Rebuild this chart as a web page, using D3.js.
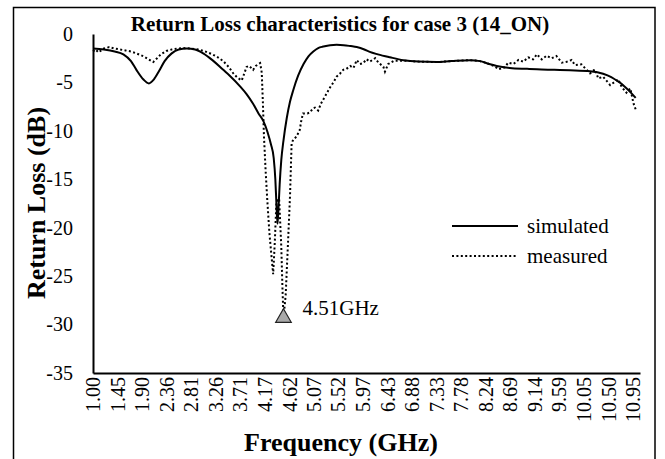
<!DOCTYPE html>
<html>
<head>
<meta charset="utf-8">
<script src="https://cdn.jsdelivr.net/npm/d3@7"></script>
<style>
  html, body { margin: 0; padding: 0; background: #fff; }
  svg text { font-family: "Liberation Serif", "Times New Roman", serif; fill: #000; }
</style>
</head>
<body>
<div id="chart"></div>
<script>
// --- Data ---

const titleText = 'Return Loss characteristics for case 3 (14_ON)';

const xTickLabels = ['1.00', '1.45', '1.90', '2.36', '2.81', '3.26', '3.71', '4.17', '4.62', '5.07',
  '5.52', '5.97', '6.43', '6.88', '7.33', '7.78', '8.24', '8.69', '9.14', '9.59', '10.05', '10.50', '10.95'];
const yTicks = [0, -5, -10, -15, -20, -25, -30, -35];

// simulated (solid)
const simFreq = [1.00, 1.20, 1.40, 1.56, 1.70, 1.80, 1.93, 2.03, 2.12, 2.22, 2.32, 2.45, 2.58, 2.73, 2.88,
  3.03, 3.20, 3.40, 3.52, 3.71, 3.83, 3.95, 4.05, 4.14, 4.22, 4.28, 4.33, 4.36, 4.38, 4.40, 4.42, 4.44,
  4.47, 4.51, 4.57, 4.63, 4.69, 4.78, 4.88, 4.97, 5.06, 5.15, 5.24, 5.37, 5.49, 5.62, 5.75, 5.86, 6.00,
  6.10, 6.25, 6.47, 6.72, 7.00, 7.33, 7.60, 7.95, 8.13, 8.30, 8.44, 8.68, 9.00, 9.18, 9.50, 9.79, 10.16,
  10.40, 10.55, 10.65, 10.75, 10.83, 10.92, 11.00];
const simLoss = [-1.5, -1.6, -1.8, -2.1, -2.8, -3.7, -4.7, -5.1, -4.7, -3.8, -2.8, -2.0, -1.6, -1.5, -1.6,
  -2.0, -2.7, -3.7, -4.3, -5.4, -6.2, -7.2, -8.2, -9.0, -10.2, -11.4, -12.8, -15.0, -17.5, -19.6, -17.8, -15.5,
  -13.0, -11.0, -8.7, -7.0, -5.8, -4.3, -3.1, -2.3, -1.8, -1.45, -1.3, -1.15, -1.12, -1.15, -1.25, -1.35, -1.6,
  -1.85, -2.1, -2.4, -2.7, -2.85, -2.9, -2.8, -2.7, -2.8, -3.1, -3.3, -3.5, -3.6, -3.65, -3.7, -3.75, -3.85,
  -4.1, -4.45, -4.8, -5.2, -5.6, -6.1, -6.6];

// measured (dotted)
const measFreq = [1.00, 1.05, 1.10, 1.20, 1.30, 1.40, 1.50, 1.60, 1.70, 1.80, 1.93, 2.02, 2.11, 2.18, 2.25,
  2.35, 2.45, 2.55, 2.66, 2.80, 2.95, 3.09, 3.20, 3.30, 3.40, 3.50, 3.59, 3.66, 3.74, 3.78, 3.83, 3.88, 3.95,
  4.00, 4.05, 4.08, 4.11, 4.13, 4.15, 4.18, 4.21, 4.25, 4.29, 4.32, 4.35, 4.38, 4.43, 4.47, 4.49, 4.51, 4.55,
  4.59, 4.63, 4.66, 4.69, 4.75, 4.81, 4.84, 4.87, 4.95, 5.00, 5.05, 5.09, 5.15, 5.20, 5.24, 5.30, 5.37, 5.43,
  5.49, 5.55, 5.61, 5.67, 5.74, 5.80, 5.86, 5.92, 5.98, 6.04, 6.10, 6.20, 6.26, 6.35, 6.38, 6.44, 6.55, 6.72,
  7.00, 7.33, 7.60, 7.95, 8.13, 8.20, 8.30, 8.41, 8.47, 8.59, 8.65, 8.75, 8.84, 8.93, 9.02, 9.11, 9.18, 9.27,
  9.36, 9.45, 9.54, 9.64, 9.73, 9.82, 9.88, 10.00, 10.10, 10.16, 10.25, 10.31, 10.40, 10.53, 10.62, 10.68,
  10.74, 10.83, 10.90, 10.96, 11.00];
const measLoss = [-1.8, -1.6, -1.9, -1.5, -1.35, -1.5, -1.6, -1.7, -1.8, -2.0, -2.3, -2.6, -2.9, -2.5, -2.1,
  -1.75, -1.6, -1.5, -1.45, -1.5, -1.6, -1.85, -2.1, -2.4, -2.8, -3.4, -4.1, -4.5, -4.8, -4.2, -3.4, -3.3, -3.7,
  -3.3, -3.1, -3.0, -4.0, -7.0, -10.5, -14.0, -17.0, -20.5, -23.0, -24.8, -21.5, -17.3, -17.0, -22.0, -26.0, -29.3, -27.0,
  -22.0, -16.8, -11.3, -10.9, -10.6, -9.9, -8.9, -8.2, -8.2, -8.1, -7.7, -7.6, -7.9, -7.2, -6.8, -6.2, -5.5, -5.0,
  -4.4, -4.1, -3.7, -3.6, -3.3, -3.5, -2.7, -3.1, -3.0, -2.6, -2.86, -2.5, -2.96, -3.37, -3.89, -3.1, -2.75, -2.75,
  -2.85, -2.9, -2.8, -2.7, -2.8, -2.9, -3.1, -3.37, -3.65, -3.44, -2.96, -3.10, -2.68, -2.86, -2.41, -2.62, -2.10, -2.62,
  -2.24, -2.51, -2.27, -2.96, -2.86, -2.68, -3.20, -3.13, -3.72, -4.06, -3.65, -4.58, -4.41, -5.27, -4.92, -4.68,
  -5.44, -6.06, -5.61, -7.16, -7.78];

const seriesNames = ['simulated', 'measured'];
const markerFreq = 4.51;
const markerLoss = -29.3;
const markerLabel = '4.51GHz';

// --- Layout ---

const W = 665, H = 459;
const svg = d3.select('#chart').append('svg')
  .attr('width', W)
  .attr('height', H)
  .attr('viewBox', `0 0 ${W} ${H}`);

svg.append('rect').attr('width', W).attr('height', H).attr('fill', '#fff');

// chart frame
svg.append('rect')
  .attr('x', 13.5).attr('y', 7.5)
  .attr('width', 641.5).attr('height', 480)
  .attr('fill', 'none')
  .attr('stroke', '#000')
  .attr('stroke-width', 1.5);

const x = d3.scaleLinear().domain([1, 11.08]).range([93, 640]);
const y = d3.scaleLinear().domain([-35, 0]).range([373, 34]);

// axes
const xAxis = d3.axisBottom(x)
  .tickValues(xTickLabels.map(Number))
  .tickFormat((d, i) => xTickLabels[i])
  .tickSize(0)
  .tickSizeOuter(0);

const gx = svg.append('g')
  .attr('transform', `translate(0,${y(-35)})`)
  .call(xAxis);
gx.select('.domain').attr('stroke', '#000').attr('stroke-width', 2);
gx.selectAll('text')
  .attr('transform', 'rotate(-90)')
  .attr('x', -4)
  .attr('y', 0)
  .attr('dy', '0.33em')
  .style('text-anchor', 'end')
  .style('font-size', '20px')
  .style('font-family', '"Liberation Serif", "Times New Roman", serif');

// plain hyphen for negatives, like the original
const yAxis = d3.axisLeft(y)
  .tickValues(yTicks)
  .tickFormat(d => String(d))
  .tickSize(0)
  .tickSizeOuter(0)
  .tickPadding(20);

const gy = svg.append('g')
  .attr('transform', `translate(${x(1)},0)`)
  .call(yAxis);
gy.select('.domain').attr('stroke', '#000').attr('stroke-width', 2);
gy.selectAll('text')
  .style('font-size', '20px')
  .style('font-family', '"Liberation Serif", "Times New Roman", serif');

// series
const toPoints = (fs, ls) => fs.map((f, i) => [f, ls[i]]);
const simLine = d3.line().x(d => x(d[0])).y(d => y(d[1])).curve(d3.curveMonotoneX);
const measLine = d3.line().x(d => x(d[0])).y(d => y(d[1]));

svg.append('path')
  .datum(toPoints(measFreq, measLoss))
  .attr('d', measLine)
  .attr('fill', 'none')
  .attr('stroke', '#000')
  .attr('stroke-width', 2)
  .attr('stroke-dasharray', '2,2.4');

svg.append('path')
  .datum(toPoints(simFreq, simLoss))
  .attr('d', simLine)
  .attr('fill', 'none')
  .attr('stroke', '#000')
  .attr('stroke-width', 2)
  .attr('stroke-linejoin', 'round');

// minimum marker
svg.append('path')
  .attr('d', d3.symbol(d3.symbolTriangle, 105)())
  .attr('transform', `translate(${x(markerFreq)},${y(markerLoss)})`)
  .attr('fill', '#a9a9a9')
  .attr('stroke', '#222')
  .attr('stroke-width', 1.2);

svg.append('text')
  .attr('x', x(markerFreq) + 19)
  .attr('y', y(markerLoss) - 3)
  .style('font-size', '21px')
  .text(markerLabel);

// legend
const legend = svg.append('g');
const legendRows = legend.selectAll('g')
  .data(seriesNames)
  .enter().append('g')
  .attr('transform', (d, i) => `translate(0,${226 + i * 30})`);

legendRows.append('line')
  .attr('x1', 452).attr('x2', 518)
  .attr('y1', 0).attr('y2', 0)
  .attr('stroke', '#000')
  .attr('stroke-width', 2)
  .attr('stroke-dasharray', (d, i) => i === 1 ? '2,2.4' : null);

legendRows.append('text')
  .attr('x', 527)
  .attr('y', 7)
  .style('font-size', '21px')
  .text(d => d);

// titles
svg.append('text')
  .attr('x', 340)
  .attr('y', 31)
  .attr('text-anchor', 'middle')
  .style('font-size', '21px')
  .style('font-weight', 'bold')
  .text(titleText);

svg.append('text')
  .attr('x', 341)
  .attr('y', 451)
  .attr('text-anchor', 'middle')
  .style('font-size', '26px')
  .style('font-weight', 'bold')
  .text('Frequency (GHz)');

svg.append('text')
  .attr('transform', 'translate(45,203) rotate(-90)')
  .attr('text-anchor', 'middle')
  .style('font-size', '26px')
  .style('font-weight', 'bold')
  .text('Return Loss (dB)');
</script>
</body>
</html>
